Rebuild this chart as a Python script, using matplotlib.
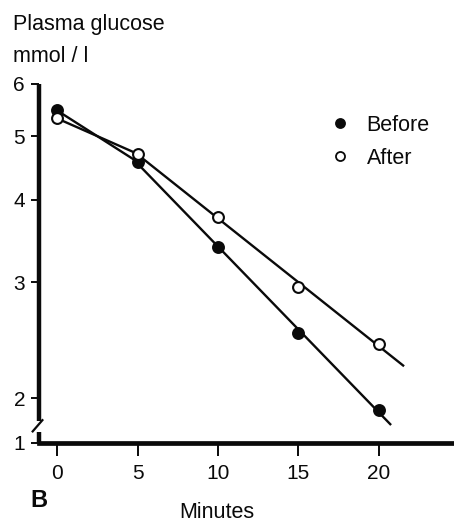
import numpy as np, matplotlib
matplotlib.use('Agg')
import matplotlib.pyplot as plt
from matplotlib.lines import Line2D
from matplotlib.ticker import FixedLocator, FixedFormatter, NullLocator

# plasma glucose (mmol/l)
minutes = [0, 5, 10, 15, 20]
before = [5.47, 4.57, 3.39, 2.51, 1.92]
after = [5.32, 4.70, 3.77, 2.95, 2.42]
# regression lines run past the last point
fit_end_before = 20.7
fit_end_after = 21.5
y_ticks = [2, 3, 4, 5, 6]
y_floor = 1.71          # where the broken axis meets the x axis, labelled "1"

INK = '#0a0a0a'
FONT = ['Liberation Sans', 'DejaVu Sans']
plt.rcParams['font.family'] = FONT

fig = plt.figure(figsize=(4.54, 5.24), dpi=100)
ax = fig.add_axes([39 / 454, 1 - 443 / 524, 1 - 39 / 454, (443 - 84) / 524])
ax.set_yscale('log')
ax.set_xlim(-1.12, 24.66)
ax.set_ylim(y_floor, 6)

t = np.array(minutes, float)
for vals, end, filled in [(before, fit_end_before, True), (after, fit_end_after, False)]:
    v = np.array(vals)
    # first segment joins the 0 and 5 min points, then log-linear fit from 5 min on
    ax.plot(t[:2], v[:2], color=INK, lw=1.7, zorder=2)
    k, b0 = np.polyfit(t[1:], np.log10(v[1:]), 1)
    tt = np.linspace(t[1], end, 50)
    ax.plot(tt, 10 ** (k * tt + b0), color=INK, lw=1.7, zorder=2)
    ax.plot(t, v, 'o', ms=7.8, mfc=INK if filled else 'white', mec=INK, mew=1.5, zorder=3)

for s in ['top', 'right', 'left']:
    ax.spines[s].set_visible(False)
ax.spines['bottom'].set_linewidth(3.4)
ax.spines['bottom'].set_color(INK)

# broken y axis drawn by hand in axes coordinates
kw = dict(transform=ax.transAxes, color=INK, clip_on=False, solid_capstyle='butt')
ax.plot([0, 0], [0.062, 1], lw=3.2, **kw)
ax.plot([0, 0], [0, 0.032], lw=3.2, **kw)
ax.plot([-0.017, 0.01], [0.03, 0.066], lw=1.6, **kw)

ax.yaxis.set_major_locator(FixedLocator([y_floor] + y_ticks))
ax.yaxis.set_major_formatter(FixedFormatter(['1'] + [str(v) for v in y_ticks]))
ax.yaxis.set_minor_locator(NullLocator())
ax.set_xticks(minutes)
ax.tick_params(axis='y', length=6, width=1.4, pad=4, labelsize=15, colors=INK)
ax.tick_params(axis='x', length=9, width=1.4, pad=6, labelsize=15, colors=INK)

fig.text(13 / 454, 1 - 30 / 524, 'Plasma glucose', fontsize=15.5, color=INK, va='baseline')
fig.text(13 / 454, 1 - 62 / 524, 'mmol / l', fontsize=15.5, color=INK, va='baseline')
fig.text(217 / 454, 1 - 518 / 524, 'Minutes', fontsize=15.5, color=INK, ha='center', va='baseline')
fig.text(30 / 454, 1 - 507 / 524, 'B', fontsize=17, fontweight='bold', color=INK, va='baseline')

handles = [Line2D([], [], ls='none', marker='o', ms=6.5, mfc=INK, mec=INK, mew=1.3),
           Line2D([], [], ls='none', marker='o', ms=6.5, mfc='white', mec=INK, mew=1.3)]
leg = fig.legend(handles, ['Before', 'After'], loc='upper left',
                 bbox_to_anchor=(329 / 454, 1 - 115 / 524), frameon=False,
                 fontsize=15.5, handlelength=1.0, handletextpad=0.75,
                 labelspacing=0.55, borderpad=0, borderaxespad=0)
for txt in leg.get_texts():
    txt.set_color(INK)

fig.savefig('out.png', dpi=100)
